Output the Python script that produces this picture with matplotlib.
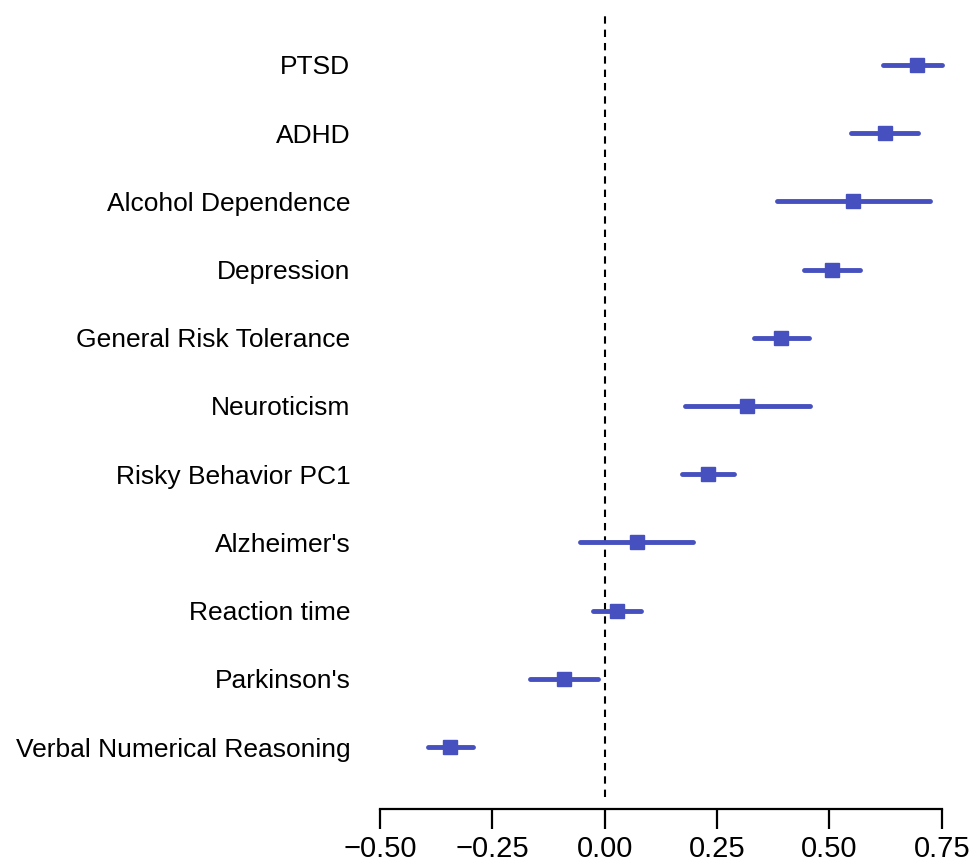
import matplotlib
matplotlib.use("Agg")
import matplotlib.pyplot as plt

traits = ["PTSD", "ADHD", "Alcohol Dependence", "Depression",
          "General Risk Tolerance", "Neuroticism", "Risky Behavior PC1",
          "Alzheimer's", "Reaction time", "Parkinson's",
          "Verbal Numerical Reasoning"]
estimate = [0.694, 0.624, 0.553, 0.506, 0.393, 0.317, 0.231, 0.071, 0.028, -0.091, -0.343]
ci_low = [0.619, 0.549, 0.383, 0.443, 0.332, 0.179, 0.173, -0.055, -0.026, -0.167, -0.393]
ci_high = [0.750, 0.698, 0.723, 0.568, 0.454, 0.456, 0.288, 0.197, 0.082, -0.015, -0.293]
xticks = [-0.50, -0.25, 0.00, 0.25, 0.50, 0.75]

plt.rcParams["font.family"] = ["Liberation Sans", "DejaVu Sans"]
plt.rcParams["lines.scale_dashes"] = False

W, H = 971, 867
fig = plt.figure(figsize=(W / 100, H / 100), dpi=100)
# axes box in pixels: left 360, right 966, top 12, bottom 797
ax = fig.add_axes([360 / W, 1 - 797 / H, (966 - 360) / W, (797 - 12) / H])

blue = "#4650BE"
n = len(traits)
ypos = list(range(n, 0, -1))

ax.axvline(0, color="black", lw=1.5, dashes=(5.3, 4.3), zorder=1)
for y, e, lo, hi in zip(ypos, estimate, ci_low, ci_high):
    ax.plot([lo, hi], [y, y], color=blue, lw=3.5, solid_capstyle="round", zorder=2)
    ax.plot(e, y, marker="s", ms=9.8, color=blue, zorder=3)

x0, scale = 604.6, 449.6
ax.set_xlim((360 - x0) / scale, (966 - x0) / scale)
ax.set_ylim(1 - (797 - 747) / 68.2, n + (65 - 12) / 68.2)

for s in ["top", "right", "left"]:
    ax.spines[s].set_visible(False)
ax.spines["bottom"].set_position(("outward", 8.6))
ax.spines["bottom"].set_bounds(-0.5, 0.75)
ax.spines["bottom"].set_linewidth(1.6)
ax.set_xticks(xticks)
ax.set_xticklabels(["\u22120.50", "\u22120.25", "0.00", "0.25", "0.50", "0.75"])
ax.tick_params(axis="x", length=14.4, width=1.6, labelsize=21, pad=4.5)
ax.set_yticks(ypos)
ax.set_yticklabels(traits)
ax.tick_params(axis="y", length=0, labelsize=19, pad=7)

fig.savefig("out.png", dpi=100)
